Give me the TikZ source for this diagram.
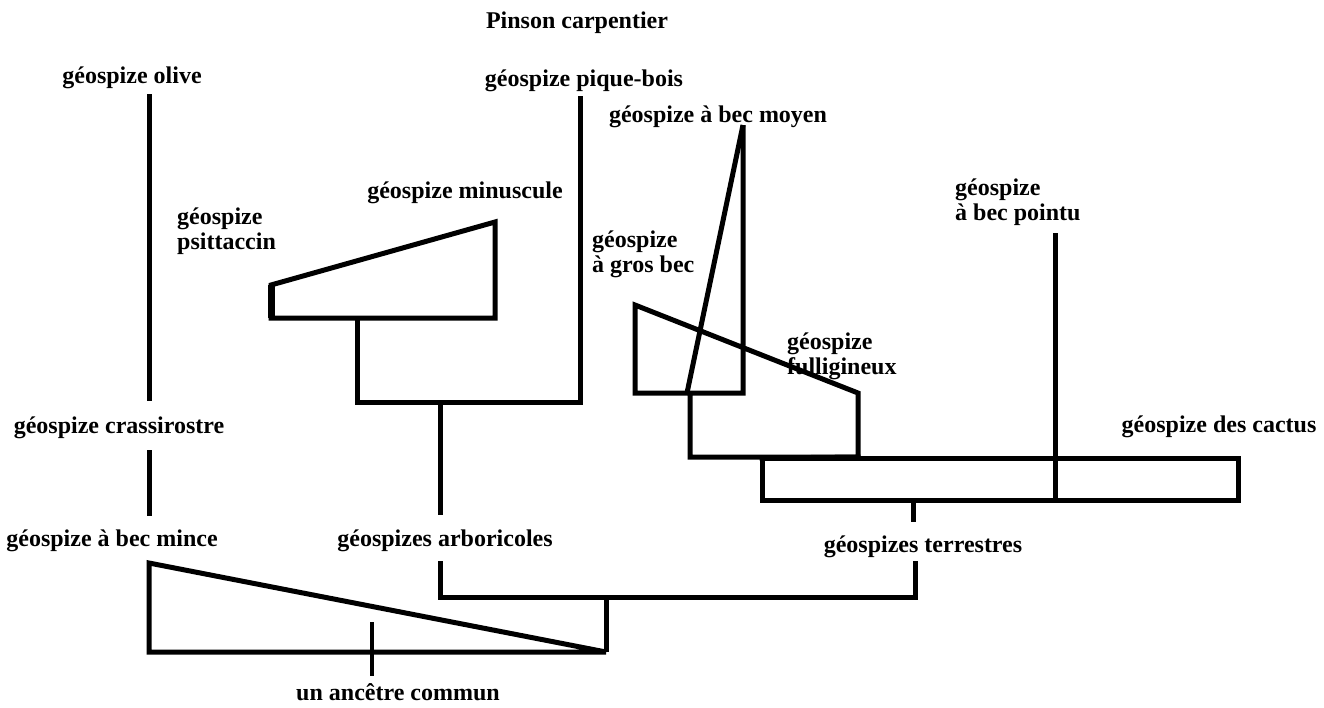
\documentclass[tikz,border=0pt]{standalone}
\usepackage{fontspec}
\setmainfont{Liberation Serif}
\begin{document}
\begin{tikzpicture}[x=1pt,y=-1pt,
  lbl/.style={inner sep=0pt,yshift=-2.5pt,font=\fontsize{24}{25}\selectfont\bfseries},
  lbl2/.style={lbl,align=left,anchor=west},
  br/.style={line width=5pt,line join=miter,line cap=rect}]
\useasboundingbox (0,0) rectangle (1324,707);
% labels
\node[lbl] (pinson) at (577,20) {Pinson carpentier};
\node[lbl] (olive) at (132,75) {géospize olive};
\node[lbl] (piquebois) at (584,78) {géospize pique-bois};
\node[lbl] (moyen) at (718,114) {géospize à bec moyen};
\node[lbl] (minuscule) at (465,190) {géospize minuscule};
\node[lbl2] (psitt) at (177,228.5) {géospize\\psittaccin};
\node[lbl2] (grosbec) at (592,251.5) {géospize\\à gros bec};
\node[lbl2] (pointu) at (955,200) {géospize\\à bec pointu};
\node[lbl2] (fulig) at (787,353.5) {géospize\\fulligineux};
\node[lbl] (crassi) at (119,425) {géospize crassirostre};
\node[lbl] (cactus) at (1219,424) {géospize des cactus};
\node[lbl] (mince) at (112,538) {géospize à bec mince};
\node[lbl] (arbor) at (445,538) {géospizes arboricoles};
\node[lbl] (terr) at (923,544) {géospizes terrestres};
\node[lbl] (ancetre) at (398,690) {un ancêtre commun};
% coordinates
\coordinate (o1) at (149,96);
\coordinate (o2) at (149,398);
\coordinate (c1) at (149,452);
\coordinate (c2) at (149,513);
\coordinate (tA) at (149,563);
\coordinate (tB) at (149,652);
\coordinate (tC) at (606,652);
\coordinate (tD) at (606,597);
\coordinate (hA) at (440,597);
\coordinate (hB) at (915,597);
\coordinate (hA2) at (440,563);
\coordinate (hB2) at (915,563);
\coordinate (an1) at (372,622);
\coordinate (an2) at (372,676);
% left tree
\draw[br] (o1) -- (o2);
\draw[br] (c1) -- (c2);
\draw[br,line cap=butt] (tA) -- (tB) -- (tC) -- cycle;
\draw[br,line cap=butt] (tC) -- (tD);
\draw[br] (hA2) -- (hA) -- (hB) -- (hB2);
\draw[line width=4pt] (an1) -- (an2);
% arboricoles
\coordinate (ar1) at (440,512);
\coordinate (ar2) at (440,402);
\coordinate (ar3) at (357,402);
\coordinate (ar4) at (580,402);
\coordinate (ar5) at (580,98);
\coordinate (ar6) at (357,318);
\draw[br] (ar1) -- (ar2);
\draw[br] (ar6) -- (ar3) -- (ar4) -- (ar5);
\coordinate (p1) at (271,285);
\coordinate (p2) at (271,318);
\coordinate (p3) at (495,318);
\coordinate (p4) at (495,222);
\draw[br,line cap=butt] (p1) -- (p2) -- (p3) -- (p4) -- cycle;
\draw[line width=7pt,line cap=butt] (p1) -- (p2);
% terrestres
\coordinate (m1) at (743,125);
\coordinate (m2) at (743,393);
\coordinate (m3) at (687,393);
\coordinate (g1) at (635,305);
\coordinate (g2) at (635,393);
\coordinate (g3) at (858,393);
\coordinate (g4) at (858,457);
\coordinate (g5) at (690,457);
\coordinate (g6) at (690,393);
\draw[br,line cap=butt] (m1) -- (m2) -- (g2) -- (g1) -- (g3) -- (g4) -- (g5) -- (g6);
\draw[br,line cap=butt] (m1) -- (m3);
\coordinate (r1) at (762,458);
\coordinate (r2) at (1238,458);
\coordinate (r3) at (1238,500);
\coordinate (r4) at (762,500);
\draw[br] (r1) rectangle (r3);
\draw[br] (g4) -- (r1);
\coordinate (pt1) at (1055,235);
\coordinate (pt2) at (1055,500);
\draw[br] (pt1) -- (pt2);
\coordinate (te1) at (913,500);
\coordinate (te2) at (913,522);
\draw[br,line cap=butt] (te1) -- (te2);
\end{tikzpicture}
\end{document}
